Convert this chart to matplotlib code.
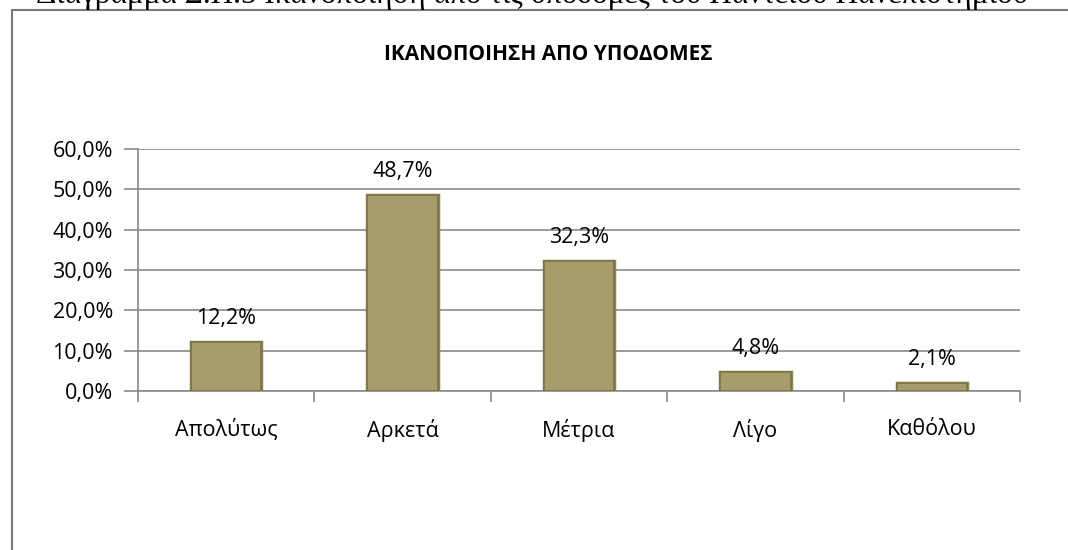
import matplotlib
matplotlib.use("Agg")
import matplotlib.pyplot as plt
from matplotlib.patches import Rectangle
import matplotlib.patheffects as pe

categories = ["Απολύτως", "Αρκετά", "Μέτρια", "Λίγο", "Καθόλου"]
values = [12.2, 48.7, 32.3, 4.8, 2.1]
yticks = [0, 10, 20, 30, 40, 50, 60]
title = "ΙΚΑΝΟΠΟΙΗΣΗ ΑΠΟ ΥΠΟΔΟΜΕΣ"
caption = "Διάγραμμα Σ.Π.5 Ικανοποίηση από τις υποδομές του Παντείου Πανεπιστημίου"

W, H = 1068, 550
fig = plt.figure(figsize=(W / 100, H / 100), dpi=100)
fig.patch.set_facecolor("white")

# outer frame
fig.add_artist(Rectangle((12 / W, -0.1), 1.2, (1 - 10 / H) + 0.1, transform=fig.transFigure,
                         fill=False, edgecolor="#7a7a7a", linewidth=1.5))
# caption, clipped at the top edge as in the reference
fig.text(532 / W, 1 + 5 / H, caption, ha="center", va="center", fontsize=22.5,
         family=["Liberation Serif", "DejaVu Serif"], color="black")

ax = fig.add_axes([138 / W, 1 - 391 / H, (1020 - 138) / W, (391 - 149) / H])
x = range(len(categories))
bars = ax.bar(x, values, width=0.4, color="#a69d6b", edgecolor="#7e7548", linewidth=1.2, zorder=3)
for b in bars:
    b.set_path_effects([pe.withStroke(linewidth=2.5, foreground="#8c8455"), pe.Normal()])

ax.set_xlim(-0.5, len(categories) - 0.5)
ax.set_ylim(0, 60)
ax.set_yticks(yticks)
ax.set_yticklabels([f"{v:.1f}%".replace(".", ",") for v in yticks],
                   fontsize=15.5, family="Open Sans")
ax.yaxis.grid(True, color="#8a8a8a", linewidth=1.2, zorder=0)
ax.tick_params(axis="y", length=10, width=1.2, color="#8a8a8a", pad=8)

ax.set_xticks([i + 0.5 for i in range(-1, len(categories))])
ax.set_xticklabels([])
ax.set_xticks(list(x), minor=True)
ax.set_xticklabels(categories, minor=True, fontsize=15.5, family="Open Sans")
ax.tick_params(axis="x", which="major", length=8, width=1.2, color="#8a8a8a")
ax.tick_params(axis="x", which="minor", length=0, pad=20)

for s in ["top", "right"]:
    ax.spines[s].set_visible(False)
ax.spines["left"].set_color("#8a8a8a")
ax.spines["left"].set_linewidth(1.2)
ax.spines["bottom"].set_color("#8a8a8a")
ax.spines["bottom"].set_linewidth(1.2)

for i, v in enumerate(values):
    ax.annotate(f"{v:.1f}%".replace(".", ","), (i, v), xytext=(0, 9),
                textcoords="offset points", ha="center", va="bottom",
                fontsize=15.5, family="Open Sans")

fig.text(548 / W, 1 - 55 / H, title, ha="center", va="center", fontsize=15,
         fontweight="bold", family="Open Sans")

fig.savefig("out.png", dpi=100)
